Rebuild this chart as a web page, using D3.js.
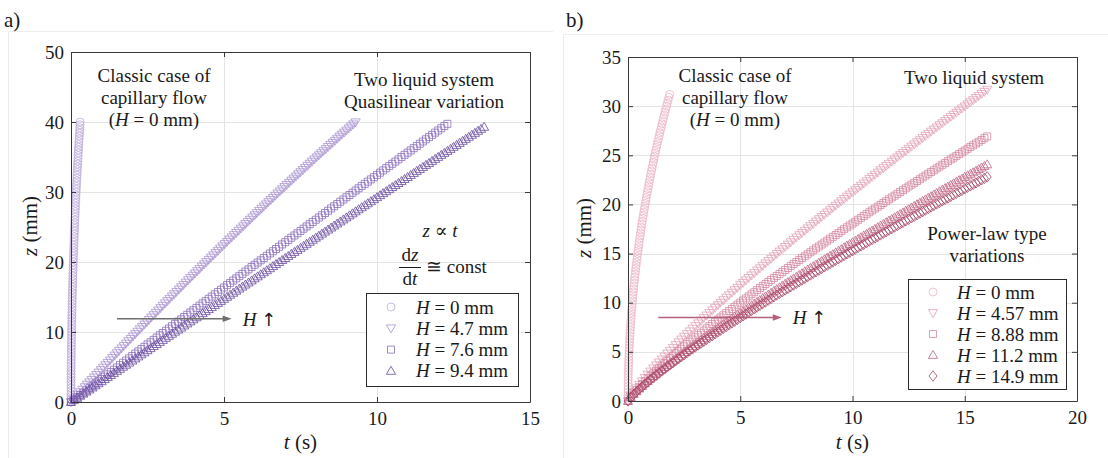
<!DOCTYPE html>
<html>
<head>
<meta charset="utf-8">
<script src="https://cdn.jsdelivr.net/npm/d3@7"></script>
<style>
  html, body { margin: 0; padding: 0; background: #fff; }
  svg { display: block; font-family: "Liberation Serif", "DejaVu Serif", serif; }
  text { white-space: pre; fill: #1a1a1a; }
</style>
</head>
<body>
<svg id="fig" width="1108" height="458"></svg>
<script>
// ---------- panel a: rise height z (mm) vs time t (s), quasilinear ----------
const tA0 = [0,0.00003,0.0001,0.0003,0.0005,0.0008,0.0011,0.0015,0.0019,0.0024,
  0.0030,0.0036,0.0043,0.0051,0.0059,0.0068,0.0077,0.0087,0.0097,0.0108,
  0.0120,0.0132,0.0145,0.0159,0.0173,0.0188,0.0203,0.0219,0.0235,0.0253,
  0.0270,0.0289,0.0307,0.0327,0.0347,0.0368,0.0389,0.0411,0.0434,0.0457,
  0.0480,0.0505,0.0530,0.0555,0.0581,0.0608,0.0635,0.0663,0.0692,0.0721,
  0.0751,0.0781,0.0812,0.0843,0.0876,0.0908,0.0942,0.0975,0.1010,0.1045,
  0.1081,0.1117,0.1154,0.1192,0.1230,0.1269,0.1308,0.1348,0.1388,0.1429,
  0.1471,0.1514,0.1556,0.1600,0.1644,0.1689,0.1734,0.1780,0.1827,0.1874,
  0.1922,0.1970,0.2019,0.2068,0.2118,0.2169,0.2221,0.2273,0.2325,0.2378,
  0.2432,0.2486,0.2541,0.2597,0.2653,0.2710,0.2767,0.2825,0.2884,0.2943,0.3002];
const zA0 = [0,0.4,0.8,1.2,1.6,2,2.4,2.8,3.2,3.6,
  4,4.4,4.8,5.2,5.6,6,6.4,6.8,7.2,7.6,
  8,8.4,8.8,9.2,9.6,10,10.4,10.8,11.2,11.6,
  12,12.4,12.8,13.2,13.6,14,14.4,14.8,15.2,15.6,
  16,16.4,16.8,17.2,17.6,18,18.4,18.8,19.2,19.6,
  20,20.4,20.8,21.2,21.6,22,22.4,22.8,23.2,23.6,
  24,24.4,24.8,25.2,25.6,26,26.4,26.8,27.2,27.6,
  28,28.4,28.8,29.2,29.6,30,30.4,30.8,31.2,31.6,
  32,32.4,32.8,33.2,33.6,34,34.4,34.8,35.2,35.6,
  36,36.4,36.8,37.2,37.6,38,38.4,38.8,39.2,39.6,40];

const tA1 = [0,0.075,0.15,0.225,0.3,0.375,0.45,0.525,0.6,0.675,
  0.75,0.825,0.9,0.975,1.05,1.125,1.2,1.275,1.35,1.425,
  1.5,1.575,1.65,1.725,1.8,1.875,1.95,2.025,2.1,2.175,
  2.25,2.325,2.4,2.475,2.55,2.625,2.7,2.775,2.85,2.925,
  3,3.075,3.15,3.225,3.3,3.375,3.45,3.525,3.6,3.675,
  3.75,3.825,3.9,3.975,4.05,4.125,4.2,4.275,4.35,4.425,
  4.5,4.575,4.65,4.725,4.8,4.875,4.95,5.025,5.1,5.175,
  5.25,5.325,5.4,5.475,5.55,5.625,5.7,5.775,5.85,5.925,
  6,6.075,6.15,6.225,6.3,6.375,6.45,6.525,6.6,6.675,
  6.75,6.825,6.9,6.975,7.05,7.125,7.2,7.275,7.35,7.425,
  7.5,7.575,7.65,7.725,7.8,7.875,7.95,8.025,8.1,8.175,
  8.25,8.325,8.4,8.475,8.55,8.625,8.7,8.775,8.85,8.925,
  9,9.075,9.15,9.225,9.3];
const zA1 = [0,0.35,0.71,1.06,1.41,1.77,2.12,2.47,2.82,3.17,
  3.51,3.86,4.21,4.56,4.91,5.26,5.60,5.95,6.29,6.64,
  6.98,7.32,7.66,8.01,8.35,8.69,9.03,9.37,9.71,10.05,
  10.39,10.73,11.07,11.41,11.74,12.08,12.41,12.75,13.08,13.42,
  13.75,14.09,14.42,14.75,15.08,15.41,15.74,16.07,16.40,16.73,
  17.06,17.39,17.72,18.05,18.37,18.70,19.02,19.35,19.67,20.00,
  20.32,20.64,20.96,21.29,21.61,21.93,22.25,22.57,22.89,23.21,
  23.53,23.85,24.16,24.48,24.79,25.11,25.43,25.74,26.05,26.37,
  26.68,27.00,27.31,27.62,27.93,28.24,28.55,28.86,29.17,29.48,
  29.79,30.10,30.40,30.71,31.01,31.32,31.63,31.93,32.23,32.54,
  32.84,33.15,33.45,33.75,34.05,34.35,34.65,34.95,35.25,35.55,
  35.84,36.14,36.44,36.74,37.03,37.33,37.62,37.92,38.21,38.50,
  38.79,39.09,39.38,39.67,39.96];

const tA2 = [0,0.1,0.2,0.3,0.4,0.5,0.6,0.7,0.8,0.9,
  1,1.1,1.2,1.3,1.4,1.5,1.6,1.7,1.8,1.9,
  2,2.1,2.2,2.3,2.4,2.5,2.6,2.7,2.8,2.9,
  3,3.1,3.2,3.3,3.4,3.5,3.6,3.7,3.8,3.9,
  4,4.1,4.2,4.3,4.4,4.5,4.6,4.7,4.8,4.9,
  5,5.1,5.2,5.3,5.4,5.5,5.6,5.7,5.8,5.9,
  6,6.1,6.2,6.3,6.4,6.5,6.6,6.7,6.8,6.9,
  7,7.1,7.2,7.3,7.4,7.5,7.6,7.7,7.8,7.9,
  8,8.1,8.2,8.3,8.4,8.5,8.6,8.7,8.8,8.9,
  9,9.1,9.2,9.3,9.4,9.5,9.6,9.7,9.8,9.9,
  10,10.1,10.2,10.3,10.4,10.5,10.6,10.7,10.8,10.9,
  11,11.1,11.2,11.3,11.4,11.5,11.6,11.7,11.8,11.9,
  12,12.1,12.2,12.3];
const zA2 = [0,0.33,0.66,0.99,1.32,1.65,1.98,2.31,2.64,2.97,
  3.29,3.62,3.95,4.28,4.61,4.94,5.27,5.60,5.92,6.25,
  6.58,6.91,7.23,7.56,7.89,8.22,8.54,8.87,9.20,9.53,
  9.85,10.18,10.50,10.83,11.16,11.49,11.81,12.14,12.46,12.79,
  13.11,13.44,13.76,14.09,14.41,14.74,15.06,15.39,15.71,16.04,
  16.36,16.69,17.01,17.34,17.66,17.98,18.30,18.63,18.95,19.28,
  19.60,19.92,20.24,20.57,20.89,21.22,21.54,21.86,22.18,22.51,
  22.83,23.15,23.47,23.79,24.11,24.44,24.76,25.08,25.40,25.72,
  26.04,26.36,26.68,27.00,27.32,27.65,27.97,28.29,28.61,28.93,
  29.25,29.57,29.89,30.21,30.53,30.85,31.16,31.48,31.80,32.12,
  32.44,32.76,33.08,33.40,33.71,34.03,34.35,34.67,34.99,35.31,
  35.62,35.94,36.26,36.58,36.89,37.21,37.53,37.85,38.16,38.48,
  38.79,39.11,39.43,39.74];

const tA3 = [0,0.1,0.2,0.3,0.4,0.5,0.6,0.7,0.8,0.9,
  1,1.1,1.2,1.3,1.4,1.5,1.6,1.7,1.8,1.9,
  2,2.1,2.2,2.3,2.4,2.5,2.6,2.7,2.8,2.9,
  3,3.1,3.2,3.3,3.4,3.5,3.6,3.7,3.8,3.9,
  4,4.1,4.2,4.3,4.4,4.5,4.6,4.7,4.8,4.9,
  5,5.1,5.2,5.3,5.4,5.5,5.6,5.7,5.8,5.9,
  6,6.1,6.2,6.3,6.4,6.5,6.6,6.7,6.8,6.9,
  7,7.1,7.2,7.3,7.4,7.5,7.6,7.7,7.8,7.9,
  8,8.1,8.2,8.3,8.4,8.5,8.6,8.7,8.8,8.9,
  9,9.1,9.2,9.3,9.4,9.5,9.6,9.7,9.8,9.9,
  10,10.1,10.2,10.3,10.4,10.5,10.6,10.7,10.8,10.9,
  11,11.1,11.2,11.3,11.4,11.5,11.6,11.7,11.8,11.9,
  12,12.1,12.2,12.3,12.4,12.5,12.6,12.7,12.8,12.9,
  13,13.1,13.2,13.3,13.4,13.5];
const zA3 = [0,0.30,0.59,0.89,1.19,1.48,1.78,2.07,2.37,2.66,
  2.96,3.26,3.55,3.85,4.14,4.44,4.73,5.03,5.32,5.62,
  5.91,6.21,6.50,6.80,7.09,7.39,7.68,7.98,8.27,8.57,
  8.86,9.16,9.45,9.74,10.04,10.33,10.62,10.92,11.21,11.50,
  11.80,12.09,12.38,12.68,12.97,13.26,13.55,13.85,14.14,14.43,
  14.73,15.02,15.31,15.60,15.89,16.19,16.48,16.77,17.06,17.35,
  17.65,17.94,18.23,18.52,18.81,19.10,19.40,19.69,19.98,20.27,
  20.56,20.85,21.14,21.43,21.72,22.01,22.30,22.59,22.88,23.17,
  23.46,23.75,24.04,24.33,24.62,24.91,25.20,25.49,25.78,26.07,
  26.36,26.65,26.94,27.23,27.52,27.81,28.10,28.38,28.67,28.96,
  29.25,29.54,29.83,30.11,30.40,30.69,30.98,31.27,31.56,31.84,
  32.13,32.42,32.71,33.00,33.28,33.57,33.86,34.14,34.43,34.72,
  35.00,35.29,35.58,35.86,36.15,36.44,36.72,37.01,37.30,37.58,
  37.87,38.16,38.44,38.73,39.01,39.30];

const labelsA = ["0 mm", "4.7 mm", "7.6 mm", "9.4 mm"];
const xTicksA = [0, 5, 10, 15];
const yTicksA = [0, 10, 20, 30, 40, 50];

// ---------- panel b: rise height z (mm) vs time t (s), power-law type ----------
const tB0 = [0,0.0002,0.0007,0.0015,0.0027,0.0043,0.0062,0.0084,0.011,0.0139,
  0.0172,0.0208,0.0247,0.0290,0.0336,0.0386,0.0439,0.0496,0.0556,0.0620,
  0.0686,0.0757,0.0831,0.0908,0.0989,0.1073,0.116,0.1251,0.1346,0.1443,
  0.1545,0.1649,0.1757,0.1869,0.1984,0.2102,0.2224,0.2350,0.2478,0.2610,
  0.2746,0.2885,0.3027,0.3173,0.3323,0.3475,0.3632,0.3791,0.3954,0.4121,
  0.4291,0.4464,0.4641,0.4821,0.5005,0.5192,0.5382,0.5576,0.5773,0.5974,
  0.6178,0.6386,0.6597,0.6812,0.703,0.7251,0.7476,0.7704,0.7936,0.8171,
  0.841,0.8652,0.8897,0.9146,0.9398,0.9654,0.9913,1.0176,1.0441,1.0711,
  1.0984,1.1260,1.154,1.1823,1.211,1.2400,1.2693,1.2990,1.3291,1.3594,
  1.3902,1.4212,1.4526,1.4844,1.5165,1.5489,1.5817,1.6148,1.6483,1.6821,
  1.7162,1.7507,1.7856,1.8208,1.8563];
const zB0 = [0,0.3,0.6,0.9,1.2,1.5,1.8,2.1,2.4,2.7,
  3,3.3,3.6,3.9,4.2,4.5,4.8,5.1,5.4,5.7,
  6,6.3,6.6,6.9,7.2,7.5,7.8,8.1,8.4,8.7,
  9,9.3,9.6,9.9,10.2,10.5,10.8,11.1,11.4,11.7,
  12,12.3,12.6,12.9,13.2,13.5,13.8,14.1,14.4,14.7,
  15,15.3,15.6,15.9,16.2,16.5,16.8,17.1,17.4,17.7,
  18,18.3,18.6,18.9,19.2,19.5,19.8,20.1,20.4,20.7,
  21,21.3,21.6,21.9,22.2,22.5,22.8,23.1,23.4,23.7,
  24,24.3,24.6,24.9,25.2,25.5,25.8,26.1,26.4,26.7,
  27,27.3,27.6,27.9,28.2,28.5,28.8,29.1,29.4,29.7,
  30,30.3,30.6,30.9,31.2];

// common sampling times of the four two-liquid runs
const tB = [0,0.125,0.25,0.375,0.5,0.625,0.75,0.875,
  1,1.125,1.25,1.375,1.5,1.625,1.75,1.875,
  2,2.125,2.25,2.375,2.5,2.625,2.75,2.875,
  3,3.125,3.25,3.375,3.5,3.625,3.75,3.875,
  4,4.125,4.25,4.375,4.5,4.625,4.75,4.875,
  5,5.125,5.25,5.375,5.5,5.625,5.75,5.875,
  6,6.125,6.25,6.375,6.5,6.625,6.75,6.875,
  7,7.125,7.25,7.375,7.5,7.625,7.75,7.875,
  8,8.125,8.25,8.375,8.5,8.625,8.75,8.875,
  9,9.125,9.25,9.375,9.5,9.625,9.75,9.875,
  10,10.125,10.25,10.375,10.5,10.625,10.75,10.875,
  11,11.125,11.25,11.375,11.5,11.625,11.75,11.875,
  12,12.125,12.25,12.375,12.5,12.625,12.75,12.875,
  13,13.125,13.25,13.375,13.5,13.625,13.75,13.875,
  14,14.125,14.25,14.375,14.5,14.625,14.75,14.875,
  15,15.125,15.25,15.375,15.5,15.625,15.75,15.875,
  16];
const zB1 = [0,0.51,0.92,1.30,1.66,2.01,2.35,2.68,
  3.00,3.32,3.63,3.93,4.23,4.53,4.83,5.12,
  5.41,5.69,5.98,6.26,6.54,6.81,7.09,7.36,
  7.63,7.90,8.17,8.44,8.70,8.96,9.23,9.49,
  9.75,10.00,10.26,10.52,10.77,11.03,11.28,11.53,
  11.78,12.03,12.28,12.53,12.78,13.02,13.27,13.51,
  13.76,14.00,14.24,14.48,14.73,14.97,15.21,15.44,
  15.68,15.92,16.16,16.40,16.63,16.87,17.10,17.33,
  17.57,17.80,18.03,18.27,18.50,18.73,18.96,19.19,
  19.42,19.65,19.88,20.10,20.33,20.56,20.79,21.01,
  21.24,21.46,21.69,21.91,22.14,22.36,22.59,22.81,
  23.03,23.25,23.48,23.70,23.92,24.14,24.36,24.58,
  24.80,25.02,25.24,25.46,25.67,25.89,26.11,26.33,
  26.54,26.76,26.98,27.19,27.41,27.63,27.84,28.06,
  28.27,28.49,28.70,28.91,29.13,29.34,29.55,29.77,
  29.98,30.19,30.40,30.61,30.83,31.04,31.25,31.46,
  31.67];
const zB2 = [0,0.44,0.78,1.11,1.41,1.71,2.00,2.28,
  2.55,2.82,3.08,3.34,3.60,3.85,4.10,4.35,
  4.60,4.84,5.08,5.32,5.56,5.79,6.03,6.26,
  6.49,6.72,6.94,7.17,7.40,7.62,7.84,8.06,
  8.28,8.50,8.72,8.94,9.16,9.37,9.59,9.80,
  10.01,10.23,10.44,10.65,10.86,11.07,11.28,11.49,
  11.69,11.90,12.11,12.31,12.52,12.72,12.93,13.13,
  13.33,13.53,13.74,13.94,14.14,14.34,14.54,14.73,
  14.93,15.13,15.33,15.53,15.72,15.92,16.12,16.31,
  16.51,16.70,16.89,17.09,17.28,17.48,17.67,17.86,
  18.05,18.24,18.44,18.63,18.82,19.01,19.20,19.39,
  19.58,19.77,19.95,20.14,20.33,20.52,20.71,20.89,
  21.08,21.27,21.45,21.64,21.82,22.01,22.19,22.38,
  22.56,22.75,22.93,23.12,23.30,23.48,23.67,23.85,
  24.03,24.21,24.40,24.58,24.76,24.94,25.12,25.30,
  25.48,25.66,25.84,26.02,26.20,26.38,26.56,26.74,
  26.92];
const zB3 = [0,0.39,0.70,0.99,1.26,1.53,1.79,2.04,
  2.28,2.52,2.76,2.99,3.22,3.44,3.67,3.89,
  4.11,4.33,4.54,4.76,4.97,5.18,5.39,5.59,
  5.80,6.01,6.21,6.41,6.61,6.81,7.01,7.21,
  7.41,7.60,7.80,7.99,8.19,8.38,8.57,8.76,
  8.95,9.14,9.33,9.52,9.71,9.90,10.08,10.27,
  10.46,10.64,10.82,11.01,11.19,11.37,11.56,11.74,
  11.92,12.10,12.28,12.46,12.64,12.82,13.00,13.17,
  13.35,13.53,13.71,13.88,14.06,14.23,14.41,14.58,
  14.76,14.93,15.11,15.28,15.45,15.63,15.80,15.97,
  16.14,16.31,16.48,16.65,16.83,17.00,17.17,17.33,
  17.50,17.67,17.84,18.01,18.18,18.35,18.51,18.68,
  18.85,19.01,19.18,19.35,19.51,19.68,19.84,20.01,
  20.17,20.34,20.50,20.67,20.83,21.00,21.16,21.32,
  21.49,21.65,21.81,21.97,22.14,22.30,22.46,22.62,
  22.79,22.95,23.11,23.27,23.43,23.59,23.75,23.91,
  24.07];
const zB4 = [0,0.37,0.66,0.94,1.20,1.45,1.69,1.93,
  2.16,2.39,2.61,2.83,3.05,3.26,3.48,3.68,
  3.89,4.10,4.30,4.51,4.71,4.91,5.10,5.30,
  5.50,5.69,5.88,6.07,6.27,6.45,6.64,6.83,
  7.02,7.20,7.39,7.57,7.76,7.94,8.12,8.30,
  8.48,8.66,8.84,9.02,9.20,9.38,9.55,9.73,
  9.91,10.08,10.26,10.43,10.60,10.78,10.95,11.12,
  11.29,11.46,11.63,11.80,11.97,12.14,12.31,12.48,
  12.65,12.82,12.99,13.15,13.32,13.48,13.65,13.82,
  13.98,14.15,14.31,14.47,14.64,14.80,14.97,15.13,
  15.29,15.45,15.62,15.78,15.94,16.10,16.26,16.42,
  16.58,16.74,16.90,17.06,17.22,17.38,17.54,17.70,
  17.86,18.01,18.17,18.33,18.48,18.64,18.80,18.96,
  19.11,19.27,19.42,19.58,19.74,19.89,20.05,20.20,
  20.36,20.51,20.66,20.82,20.97,21.12,21.28,21.43,
  21.59,21.74,21.89,22.04,22.19,22.35,22.50,22.65,
  22.80];

const labelsB = ["0 mm", "4.57 mm", "8.88 mm", "11.2 mm", "14.9 mm"];
const xTicksB = [0, 5, 10, 15, 20];
const yTicksB = [0, 5, 10, 15, 20, 25, 30, 35];

// ---------- drawing ----------
const svg = d3.select("#fig");

const MARKERS = {
  circle:  "M4,0A4,4 0 1,1 -4,0A4,4 0 1,1 4,0Z",
  tdown:   "M0,4.6L-4.6,-3.4L4.6,-3.4Z",
  square:  "M-3.5,-3.5H3.5V3.5H-3.5Z",
  tup:     "M0,-4.6L-4.6,3.4L4.6,3.4Z",
  diamond: "M0,-5.2L4,0L0,5.2L-4,0Z"
};

function richText(g, x, y, parts, opts = {}) {
  const t = g.append("text").attr("x", x).attr("y", y)
    .attr("font-size", opts.size || 19)
    .attr("text-anchor", opts.anchor || "start");
  parts.forEach(p => {
    const s = t.append("tspan").text(p[0]);
    if (p[1] === true) s.attr("font-style", "italic");
    if (p[1] === "sym") s.attr("font-family", '"DejaVu Sans", sans-serif').attr("font-size", (opts.size || 19) - 1);
  });
  return t;
}

function drawPanel(p) {
  const g = svg.append("g");
  const x = d3.scaleLinear().domain(p.xDomain).range(p.xRange);
  const y = d3.scaleLinear().domain(p.yDomain).range(p.yRange);
  const [xl, xr] = p.xRange;
  const [yb, yt] = p.yRange;

  // light outer frame of the sub-figure
  g.append("path").attr("d", p.frame).attr("fill", "none").attr("stroke", "#ececec");

  // grid
  g.append("g").selectAll("line").data(p.xTicks.slice(1, -1)).join("line")
    .attr("x1", d => Math.round(x(d)) + 0.5).attr("x2", d => Math.round(x(d)) + 0.5)
    .attr("y1", yt).attr("y2", yb).attr("stroke", "#e4e4e4");
  g.append("g").selectAll("line").data(p.yTicks.slice(1, -1)).join("line")
    .attr("y1", d => Math.round(y(d)) + 0.5).attr("y2", d => Math.round(y(d)) + 0.5)
    .attr("x1", xl).attr("x2", xr).attr("stroke", "#e4e4e4");

  // data series
  p.series.forEach(s => {
    g.append("g").selectAll("path").data(d3.zip(s.t, s.z)).join("path")
      .attr("d", MARKERS[s.marker])
      .attr("transform", d => `translate(${x(d[0])},${y(d[1])})`)
      .attr("fill", "none").attr("stroke", s.color).attr("stroke-width", 0.8);
  });

  // axes (box with inward ticks on all sides)
  const axColor = "#3a3a3a";
  const styleAxis = sel => {
    sel.select(".domain").attr("stroke", axColor);
    sel.selectAll(".tick line").attr("stroke", axColor);
    sel.selectAll(".tick text").attr("fill", "#262626").attr("font-size", 19)
      .attr("font-family", '"Liberation Serif", "DejaVu Serif", serif');
  };
  g.append("g").attr("transform", `translate(0,${yb})`)
    .call(d3.axisBottom(x).tickValues(p.xTicks).tickSize(-5).tickSizeOuter(0).tickPadding(10))
    .call(styleAxis)
    .call(sel => sel.selectAll(".tick text").attr("dy", null).attr("y", 23));
  g.append("g").attr("transform", `translate(0,${yt})`)
    .call(d3.axisTop(x).tickValues(p.xTicks).tickSize(-5).tickSizeOuter(0).tickFormat(""))
    .call(styleAxis);
  g.append("g").attr("transform", `translate(${xl},0)`)
    .call(d3.axisLeft(y).tickValues(p.yTicks).tickSize(-5).tickSizeOuter(0).tickPadding(7))
    .call(styleAxis);
  g.append("g").attr("transform", `translate(${xr},0)`)
    .call(d3.axisRight(y).tickValues(p.yTicks).tickSize(-5).tickSizeOuter(0).tickFormat(""))
    .call(styleAxis);

  // axis labels
  richText(g, (xl + xr) / 2, 449, [["t", true], [" (s)", false]], { size: 21, anchor: "middle" });
  richText(g, 0, 0, [["z", true], [" (mm)", false]], { size: 21, anchor: "middle" })
    .attr("transform", `translate(${p.yLabelX},${p.yLabelY}) rotate(-90)`);

  // panel tag
  g.append("text").attr("x", p.tagX).attr("y", 27).attr("font-size", 21).text(p.tag);

  // arrow showing increasing H
  const ax1 = x(p.arrow.t0), ax2 = x(p.arrow.t1), ay = y(p.arrow.z);
  g.append("line").attr("x1", ax1).attr("x2", ax2 - 6).attr("y1", ay).attr("y2", ay)
    .attr("stroke", p.arrow.color).attr("stroke-width", 1.6);
  g.append("path").attr("d", `M${ax2},${ay}L${ax2 - 9},${ay - 3.2}L${ax2 - 9},${ay + 3.2}Z`)
    .attr("fill", p.arrow.color);
  richText(g, ax2 + 11, ay + 7, [["H", true], [" ", false], ["\u2191", "sym"]], { size: 19 });

  // legend
  const L = p.legend;
  g.append("rect").attr("x", L.x + 0.5).attr("y", L.y + 0.5).attr("width", L.w).attr("height", L.h)
    .attr("fill", "#fff").attr("stroke", "#2a2a2a").attr("stroke-width", 1);
  p.series.forEach((s, i) => {
    const cy = L.y + L.first + i * L.step;
    g.append("path").attr("d", MARKERS[s.marker])
      .attr("transform", `translate(${L.x + L.mx},${cy})`)
      .attr("fill", "none").attr("stroke", s.color).attr("stroke-width", 0.8);
    richText(g, L.x + L.tx, cy + 6.5, [["H", true], [" = " + s.label, false]], { size: 19 });
  });

  return { g, x, y };
}

// panel a
const purples = ["#bcabda", "#a993d0", "#8b6fbd", "#6a4b9e"];
const markersA = ["circle", "tdown", "square", "tup"];
const A = drawPanel({
  xDomain: [0, 15], xRange: [71, 530],
  yDomain: [0, 50], yRange: [402, 52],
  xTicks: xTicksA, yTicks: yTicksA,
  frame: "M8.5,458V31.5H553",
  tag: "a)", tagX: 4,
  yLabelX: 37, yLabelY: 226,
  series: [
    { t: tA0, z: zA0 }, { t: tA1, z: zA1 }, { t: tA2, z: zA2 }, { t: tA3, z: zA3 }
  ].map((s, i) => ({ ...s, marker: markersA[i], color: purples[i], label: labelsA[i] })),
  arrow: { t0: 1.5, t1: 5.25, z: 11.9, color: "#707070" },
  legend: { x: 366, y: 293, w: 152, h: 93, first: 14, step: 21.3, mx: 25, tx: 50 }
});

// annotations, panel a
[["Classic case of", 82], ["capillary flow", 104]].forEach(([s, yy]) =>
  richText(A.g, 154, yy, [[s, false]], { anchor: "middle" }));
richText(A.g, 154, 126, [["(", false], ["H", true], [" = 0 mm)", false]], { anchor: "middle" });
richText(A.g, 424, 86, [["Two liquid system", false]], { anchor: "middle" });
richText(A.g, 424, 108, [["Quasilinear variation", false]], { anchor: "middle" });
richText(A.g, 440, 237, [["z", true], [" \u221d ", false], ["t", true]], { anchor: "middle" });
richText(A.g, 410, 261, [["d", false], ["z", true]], { anchor: "middle" });
A.g.append("line").attr("x1", 399).attr("x2", 421).attr("y1", 267.5).attr("y2", 267.5)
  .attr("stroke", "#1a1a1a").attr("stroke-width", 1);
richText(A.g, 410, 285, [["d", false], ["t", true]], { anchor: "middle" });
richText(A.g, 426, 273, [["\u2245 const", false]]);

// panel b
const pinks = ["#ecb6c7", "#e2a1b7", "#d487a1", "#bf6684", "#a64563"];
const markersB = ["circle", "tdown", "square", "tup", "diamond"];
const B = drawPanel({
  xDomain: [0, 20], xRange: [628, 1077],
  yDomain: [0, 35], yRange: [401, 57],
  xTicks: xTicksB, yTicks: yTicksB,
  frame: "M563.5,458V34.5H1108",
  tag: "b)", tagX: 566,
  yLabelX: 591, yLabelY: 228,
  series: [
    { t: tB0, z: zB0 }, { t: tB, z: zB1 }, { t: tB, z: zB2 }, { t: tB, z: zB3 }, { t: tB, z: zB4 }
  ].map((s, i) => ({ ...s, marker: markersB[i], color: pinks[i], label: labelsB[i] })),
  arrow: { t0: 1.35, t1: 6.85, z: 8.5, color: "#b5607c" },
  legend: { x: 908, y: 279, w: 158, h: 110, first: 13, step: 21, mx: 25, tx: 49 }
});

// annotations, panel b
[["Classic case of", 82], ["capillary flow", 104]].forEach(([s, yy]) =>
  richText(B.g, 735, yy, [[s, false]], { anchor: "middle" }));
richText(B.g, 735, 126, [["(", false], ["H", true], [" = 0 mm)", false]], { anchor: "middle" });
richText(B.g, 974, 84, [["Two liquid system", false]], { anchor: "middle" });
richText(B.g, 987, 240, [["Power-law type", false]], { anchor: "middle" });
richText(B.g, 987, 262, [["variations", false]], { anchor: "middle" });
</script>
</body>
</html>
